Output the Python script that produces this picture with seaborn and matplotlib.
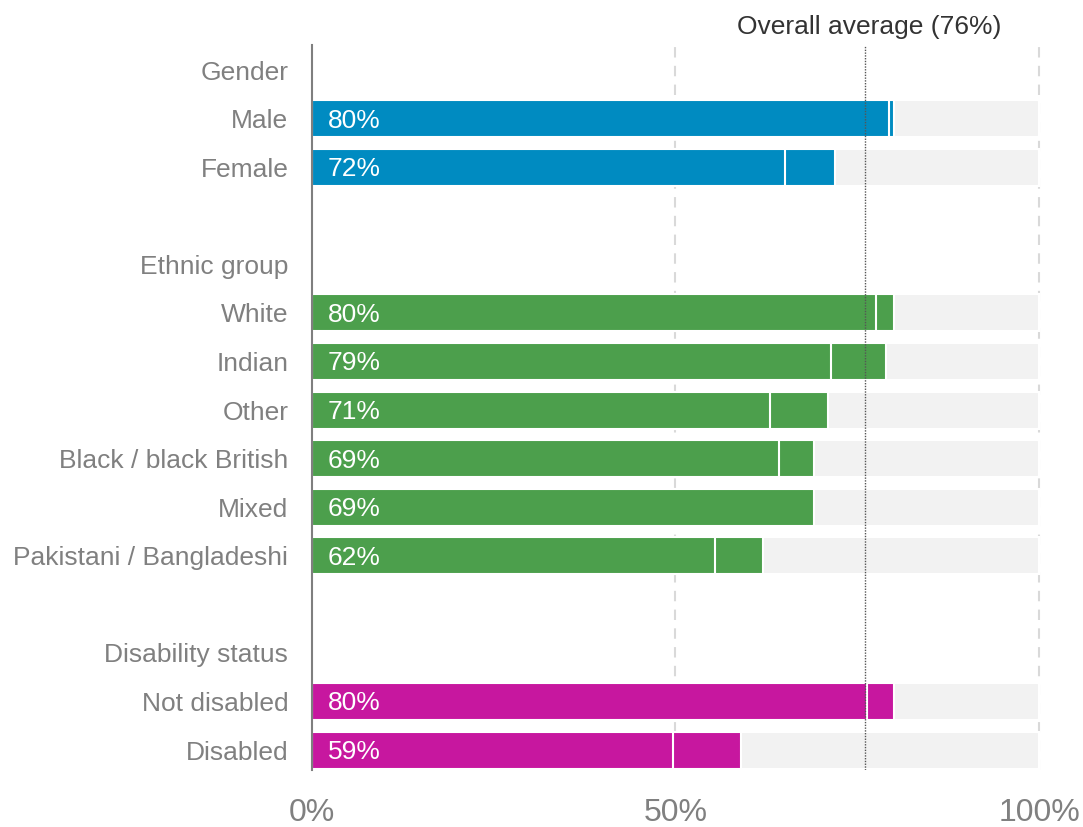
import numpy as np
import pandas as pd
import matplotlib
matplotlib.use("Agg")
import matplotlib.pyplot as plt
import seaborn as sns

# Row layout: section headers, categories and blank spacer rows
rows = ["Gender", "Male", "Female", " ",
        "Ethnic group", "White", "Indian", "Other", "Black / black British",
        "Mixed", "Pakistani / Bangladeshi", "  ",
        "Disability status", "Not disabled", "Disabled"]
groups = ["", "gender", "gender", "",
          "", "ethnic", "ethnic", "ethnic", "ethnic", "ethnic", "ethnic", "",
          "", "disability", "disability"]
# Overall rate per category (labelled value) and the inner first component
totals = [np.nan, 80, 72, np.nan,
          np.nan, 80, 79, 71, 69, 69, 62, np.nan,
          np.nan, 80, 59]
first_part = [np.nan, 79.4, 65.0, np.nan,
              np.nan, 77.6, 71.4, 63.0, 64.2, 69.0, 55.4, np.nan,
              np.nan, 76.4, 49.6]
overall_average = 76
x_ticks = [0, 50, 100]
x_tick_labels = ["0%", "50%", "100%"]

palette = {"gender": "#008BC1", "ethnic": "#4C9F4C", "disability": "#C7179F"}

df = pd.DataFrame({"row": rows, "group": groups, "total": totals,
                   "first": first_part})
df["background"] = np.where(df["total"].notna(), 100.0, np.nan)
bars = df[df["total"].notna()]

sns.set_theme(style="white")
plt.rcParams["font.family"] = ["Liberation Sans", "DejaVu Sans"]

fig = plt.figure(figsize=(10.83, 8.27), dpi=100)
ax = fig.add_axes([0.288, 0.0689, 0.6734, 0.8767])

common = dict(y="row", order=rows, orient="h", width=0.76, errorbar=None,
              saturation=1, ax=ax)
# Light grey track to 100%
sns.barplot(data=bars, x="background", color="#F2F2F2",
            edgecolor="white", linewidth=1.5, **common)
# Full value bar
sns.barplot(data=bars, x="total", hue="group", palette=palette, dodge=False,
            legend=False, edgecolor="white", linewidth=1.5, **common)
# Inner first component, separated by a white edge
sns.barplot(data=bars, x="first", hue="group", palette=palette, dodge=False,
            legend=False, edgecolor="white", linewidth=1.5, **common)

ax.set_xlim(0, 100.3)
ax.set_ylim(14.41, -0.515)

# Dashed reference gridlines
for xv in [50, 100]:
    ax.axvline(xv, color="#D9D9D9", linestyle=(0, (5, 4)), linewidth=1.5,
               zorder=0)

# Overall average marker
ax.axvline(overall_average, color="#555555", linestyle=(0, (1, 1)),
           linewidth=1.0, zorder=5)
ax.text(overall_average + 0.6, -0.63, f"Overall average ({overall_average}%)",
        ha="center", va="bottom", fontsize=19, color="#333333")

# Value labels inside bars
for i, r in enumerate(rows):
    v = df.loc[i, "total"]
    if np.isfinite(v):
        ax.text(2.2, i + 0.04, f"{int(v)}%", ha="left", va="center",
                fontsize=19, color="white", zorder=6)

ax.set_xticks(x_ticks)
ax.set_xticklabels(x_tick_labels, fontsize=23, color="#808080")
ax.tick_params(axis="x", length=0, pad=20)
ax.tick_params(axis="y", length=0, pad=17)
for lbl in ax.get_yticklabels():
    lbl.set_fontsize(19)
    lbl.set_color("#808080")
ax.set_xlabel("")
ax.set_ylabel("")

for side in ["top", "right", "bottom"]:
    ax.spines[side].set_visible(False)
ax.spines["left"].set_color("#7F7F7F")
ax.spines["left"].set_linewidth(1.5)
ax.spines["left"].set_zorder(7)

fig.savefig("out.png", dpi=100)
